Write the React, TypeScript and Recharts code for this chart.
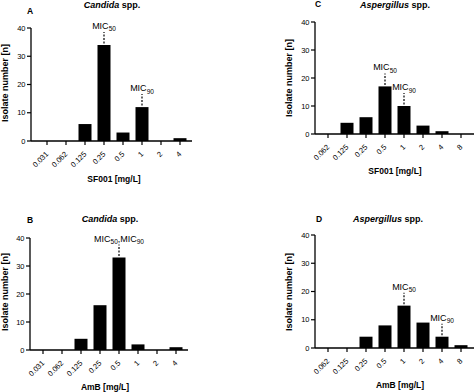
import React from 'react';
import { BarChart, Bar, XAxis, YAxis, LabelList } from 'recharts';

const FONT = '"Liberation Sans", Arial, Helvetica, sans-serif';

// Categories (MIC concentrations, mg/L)
const candidaDoses = ['0.031', '0.062', '0.125', '0.25', '0.5', '1', '2', '4'];
const aspergillusDoses = ['0.062', '0.125', '0.25', '0.5', '1', '2', '4', '8'];

// Isolate counts
const sf001Candida = [0, 0, 6, 34, 3, 12, 0, 1];
const amBCandida = [0, 0, 4, 16, 33, 2, 0, 1];
const sf001Aspergillus = [0, 4, 6, 17, 10, 3, 1, 0];
const amBAspergillus = [0, 0, 4, 8, 15, 9, 4, 1];

// Y ticks
const yTicks = [0, 10, 20, 30, 40];

// MIC annotations: dose -> label kind
const micA: Record<string, string> = { '0.25': '50', '1': '90' };
const micB: Record<string, string> = { '0.5': 'both' };
const micC: Record<string, string> = { '0.5': '50', '1': '90' };
const micD: Record<string, string> = { '1': '50', '4': '90' };

const buildData = (doses: string[], values: number[], mic: Record<string, string>) =>
  doses.map((d, i) => ({ dose: d, n: values[i], mic: mic[d] || '' }));

const RotTick = (props: any) => {
  const { x, y, payload } = props;
  return (
    <text
      x={0}
      y={0}
      transform={`translate(${x + 2},${y + 7.5}) rotate(-45)`}
      textAnchor="end"
      fontSize={7.5}
      fill="#000"
      fontFamily={FONT}
    >
      {payload.value}
    </text>
  );
};

const renderMic = (props: any) => {
  const { x, y, width, value } = props;
  if (!value) return null;
  const cx = Number(x) + Number(width) / 2;
  const top = Number(y);
  const sub = { fontSize: 6.5 };
  let content;
  if (value === 'both') {
    content = (
      <>
        MIC
        <tspan dy={2.5} {...sub}>50</tspan>
        <tspan dy={-2.5}>,MIC</tspan>
        <tspan dy={2.5} {...sub}>90</tspan>
      </>
    );
  } else {
    content = (
      <>
        MIC
        <tspan dy={2.5} {...sub}>{value}</tspan>
      </>
    );
  }
  return (
    <g>
      <line x1={cx} x2={cx} y1={top - 1.5} y2={top - 13} stroke="#000" strokeWidth={1.2} strokeDasharray="2 1.5" />
      <text x={cx} y={top - 16} textAnchor="middle" fontSize={9} fill="#000" fontFamily={FONT}>
        {content}
      </text>
    </g>
  );
};

type PanelProps = {
  left: number;
  top: number;
  yAxisX: number;
  topY: number;
  bottomY: number;
  axisEnd: number;
  padLeft: number;
  padRight: number;
  data: any[];
};

const Panel = ({ left, top, yAxisX, topY, bottomY, axisEnd, padLeft, padRight, data }: PanelProps) => (
  <div style={{ position: 'absolute', left, top, width: 237, height: 196 }}>
    <BarChart
      width={237}
      height={196}
      data={data}
      margin={{ top: topY, right: 237 - axisEnd, bottom: 0, left: yAxisX - 25 }}
      barCategoryGap={3}
    >
      <XAxis
        dataKey="dose"
        type="category"
        interval={0}
        height={196 - bottomY}
        tickSize={4}
        tickMargin={2}
        padding={{ left: padLeft, right: padRight }}
        axisLine={{ stroke: '#000', strokeWidth: 1.3 }}
        tickLine={{ stroke: '#000', strokeWidth: 1.2 }}
        tick={<RotTick />}
      />
      <YAxis
        width={25}
        domain={[0, 40]}
        ticks={yTicks}
        interval={0}
        tickSize={4}
        tickMargin={1.5}
        axisLine={{ stroke: '#000', strokeWidth: 1.3 }}
        tickLine={{ stroke: '#000', strokeWidth: 1.2 }}
        tick={{ fontSize: 7.5, fill: '#000', fontFamily: FONT }}
      />
      <Bar dataKey="n" fill="#000" barSize={13} isAnimationActive={false}>
        <LabelList dataKey="mic" content={renderMic} />
      </Bar>
    </BarChart>
  </div>
);

const Title = ({ x, y, genus }: { x: number; y: number; genus: string }) => (
  <text x={x} y={y} textAnchor="middle" fontSize={9} fontWeight="bold" fill="#000" fontFamily={FONT}>
    <tspan fontStyle="italic">{genus}</tspan> spp.
  </text>
);

const BoldText = ({ x, y, children, anchor = 'middle', size = 8.5 }: any) => (
  <text x={x} y={y} textAnchor={anchor} fontSize={size} fontWeight="bold" fill="#000" fontFamily={FONT}>
    {children}
  </text>
);

const YLabel = ({ x, y }: { x: number; y: number }) => (
  <text
    transform={`translate(${x},${y}) rotate(-90)`}
    textAnchor="middle"
    fontSize={9}
    fontWeight="bold"
    fill="#000"
    fontFamily={FONT}
  >
    Isolate number [n]
  </text>
);

export default function App() {
  return (
    <div
      style={{
        position: 'absolute',
        left: 0,
        top: 0,
        width: 474,
        height: 392,
        background: '#fff',
        overflow: 'hidden',
        fontFamily: FONT,
      }}
    >
      <Panel left={0} top={0} yAxisX={31} topY={28} bottomY={141} axisEnd={192} padLeft={6.5} padRight={2.5}
        data={buildData(candidaDoses, sf001Candida, micA)} />
      <Panel left={0} top={196} yAxisX={30} topY={42} bottomY={154} axisEnd={188} padLeft={3.5} padRight={2.5}
        data={buildData(candidaDoses, amBCandida, micB)} />
      <Panel left={237} top={0} yAxisX={78} topY={22} bottomY={134} axisEnd={237} padLeft={3.5} padRight={3.5}
        data={buildData(aspergillusDoses, sf001Aspergillus, micC)} />
      <Panel left={237} top={196} yAxisX={78} topY={39} bottomY={152} axisEnd={237} padLeft={3.5} padRight={3.5}
        data={buildData(aspergillusDoses, amBAspergillus, micD)} />
      <svg width={474} height={392} style={{ position: 'absolute', left: 0, top: 0, pointerEvents: 'none' }}>
        {/* Panel A */}
        <Title x={112} y={7.5} genus="Candida" />
        <BoldText x={27} y={14} anchor="start">A</BoldText>
        <BoldText x={114} y={182}>SF001 [mg/L]</BoldText>
        <YLabel x={8} y={83} />
        {/* Panel B */}
        <Title x={110} y={222} genus="Candida" />
        <BoldText x={27} y={223} anchor="start">B</BoldText>
        <BoldText x={105} y={390}>AmB [mg/L]</BoldText>
        <YLabel x={8} y={292} />
        {/* Panel C */}
        <Title x={395} y={7.5} genus="Aspergillus" />
        <BoldText x={315} y={6.5} anchor="start">C</BoldText>
        <BoldText x={395} y={174}>SF001 [mg/L]</BoldText>
        <YLabel x={292} y={78} />
        {/* Panel D */}
        <Title x={388} y={222} genus="Aspergillus" />
        <BoldText x={316} y={222} anchor="start">D</BoldText>
        <BoldText x={400} y={388}>AmB [mg/L]</BoldText>
        <YLabel x={292} y={292} />
      </svg>
    </div>
  );
}
